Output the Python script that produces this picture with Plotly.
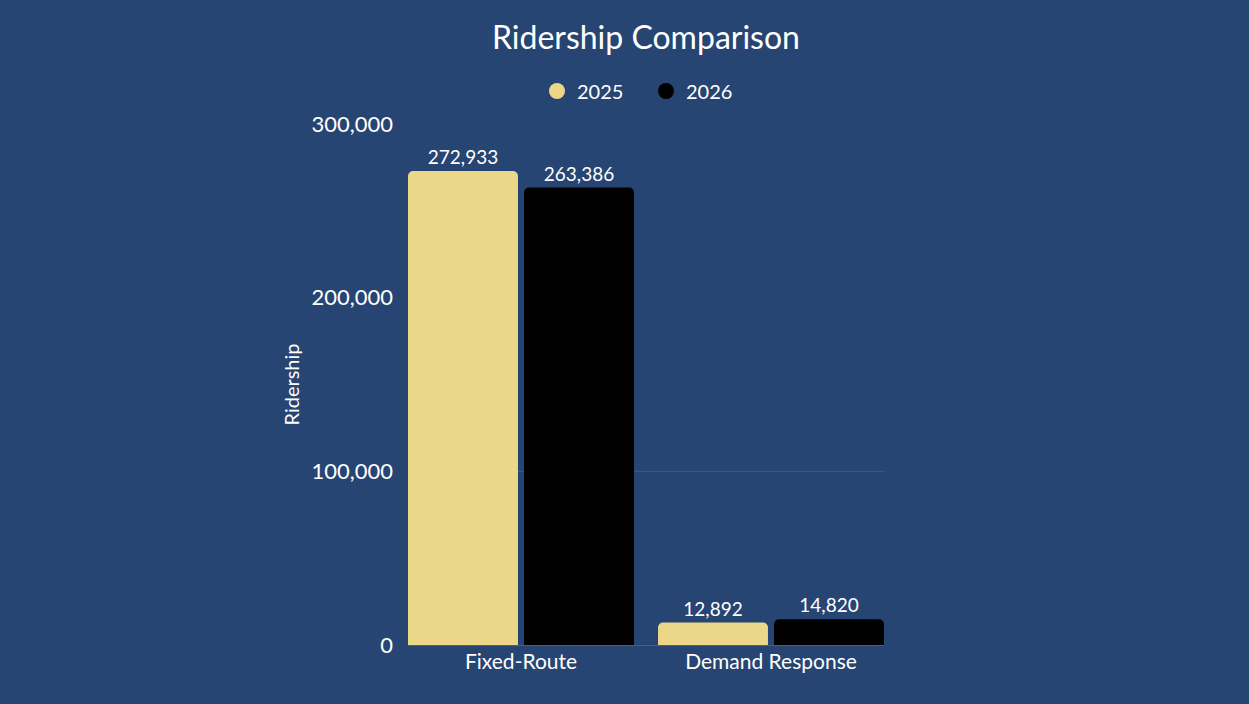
import plotly.graph_objects as go

categories = ["Fixed-Route", "Demand Response"]
series_names = ["2025", "2026"]
values_2025 = [272933, 12892]
values_2026 = [263386, 14820]
colors = ["#ECD688", "#000000"]
y_ticks = [0, 100000, 200000, 300000]

BG = "#274572"
FONT = "Lato, 'Open Sans', sans-serif"

fig = go.Figure()
for name, vals, col in zip(series_names, [values_2025, values_2026], colors):
    fig.add_trace(go.Bar(
        x=categories, y=vals, name=name, marker_color=col,
        marker_line_width=0, showlegend=False,
        text=[f"{v:,}" for v in vals], textposition="outside",
        textfont=dict(color="#ffffff", size=19, family=FONT),
        cliponaxis=False,
    ))
    fig.add_trace(go.Scatter(
        x=[None], y=[None], mode="markers", name=name,
        marker=dict(symbol="circle", size=19, color=col),
    ))

fig.add_hline(y=100000, line=dict(color="rgba(255,255,255,0.12)", width=1), layer="below")

fig.update_layout(
    width=1249, height=704,
    paper_bgcolor=BG, plot_bgcolor=BG,
    margin=dict(l=408, r=365, t=124, b=59, autoexpand=False),
    barmode="group", bargap=0.072, bargroupgap=0.052, barcornerradius=5,
    font=dict(family=FONT, color="#ffffff", size=19),
    title=dict(text="Ridership Comparison", x=0.5, xref="paper", xanchor="center",
               y=1 - 38 / 704, yref="container", yanchor="middle",
               font=dict(size=32, color="#ffffff", family=FONT)),
    legend=dict(orientation="h", x=0.5, xanchor="center", y=1 - 91 / 704, yref="container",
                yanchor="middle", font=dict(size=20, color="#ffffff", family=FONT),
                entrywidth=64, entrywidthmode="pixels",
                itemsizing="trace", bgcolor="rgba(0,0,0,0)"),
    xaxis=dict(range=[-0.452, 1.452], showgrid=False, showline=False, zeroline=False,
               tickfont=dict(size=21, color="#ffffff", family=FONT), ticks="", ticklabelstandoff=2),
    yaxis=dict(range=[0, 300000], tickvals=y_ticks, tickformat=",", showgrid=False,
               zeroline=True, zerolinecolor="rgba(255,255,255,0.15)", zerolinewidth=1,
               showline=False, ticks="", ticklabelstandoff=14,
               tickfont=dict(size=22, color="#ffffff", family=FONT),
               title=dict(text="Ridership", font=dict(size=20, color="#ffffff", family=FONT), standoff=6)),
)

fig.write_html("out.html", config={"displayModeBar": False},
               post_script="document.body.style.margin='0';")
